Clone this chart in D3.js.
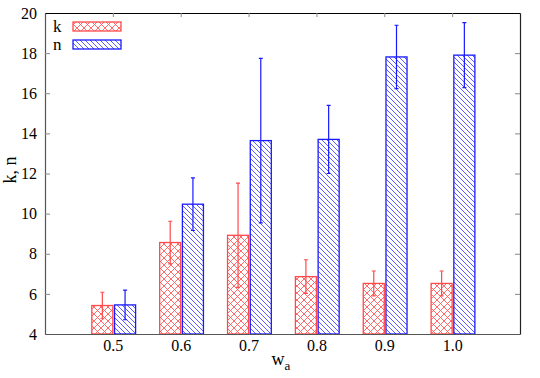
<!DOCTYPE html>
<html>
<head>
<meta charset="utf-8">
<script src="https://cdn.jsdelivr.net/npm/d3@7"></script>
<style>
  body { margin: 0; background: #fff; }
</style>
</head>
<body>
<div id="chart"></div>
<script>
// data
const wa = ["0.5", "0.6", "0.7", "0.8", "0.9", "1.0"];
const kVals = [5.42, 8.56, 8.92, 6.86, 6.52, 6.52];
const kErr  = [0.66, 1.06, 2.60, 0.84, 0.62, 0.62];
const nVals = [5.45, 10.47, 13.64, 13.70, 17.81, 17.90];
const nErr  = [0.74, 1.31, 4.10, 1.70, 1.58, 1.62];
const yTicks = [4, 6, 8, 10, 12, 14, 16, 18, 20];

const width = 540, height = 378;
const margin = ({top: 13, right: 20, bottom: 44, left: 45});
const visWidth = width - margin.left - margin.right;
const visHeight = height - margin.top - margin.bottom;
const serif = "'Liberation Serif', 'Times New Roman', serif";

const svg = d3.select("#chart").append("svg")
    .attr("width", width)
    .attr("height", height);

// fill patterns
const defs = svg.append("defs");
const pk = defs.append("pattern")
    .attr("id", "cross")
    .attr("patternUnits", "userSpaceOnUse")
    .attr("width", 7).attr("height", 7);
pk.append("path").attr("d", "M0,0L7,7M7,0L0,7")
    .attr("stroke", "#ff5a5a").attr("stroke-width", 0.9).attr("fill", "none");
const pn = defs.append("pattern")
    .attr("id", "diag")
    .attr("patternUnits", "userSpaceOnUse")
    .attr("width", 5).attr("height", 5);
pn.append("path").attr("d", "M-1,-1L6,6M-1,4L1,6M4,-1L6,1")
    .attr("stroke", "#4a4aff").attr("stroke-width", 0.9).attr("fill", "none");

const x = d3.scaleLinear().domain([0, 7]).range([0, visWidth]);
const y = d3.scaleLinear().domain([4, 20]).range([visHeight, 0]);

const g = svg.append("g")
    .attr("transform", `translate(${margin.left},${margin.top})`);

const bw = 0.31;
const series = [
  {key: "k", vals: kVals, err: kErr, off: -bw, fill: "url(#cross)", stroke: "#ff4a4a"},
  {key: "n", vals: nVals, err: nErr, off: 0.025, fill: "url(#diag)", stroke: "#1a1aff"}
];

series.forEach(s => {
  const grp = g.append("g");
  grp.selectAll("rect")
    .data(s.vals)
    .enter().append("rect")
      .attr("x", (d, i) => x(i + 1 + s.off))
      .attr("y", d => y(d))
      .attr("width", x(bw) - x(0))
      .attr("height", d => y(4) - y(d))
      .attr("fill", s.fill)
      .attr("stroke", s.stroke)
      .attr("stroke-width", 1.3);

  // error bars
  const cx = i => x(i + 1 + s.off + bw / 2);
  grp.selectAll(".eb")
    .data(s.vals)
    .enter().append("path")
      .attr("d", (d, i) => {
        const xc = cx(i), t = y(d + s.err[i]), b = y(d - s.err[i]);
        return `M${xc},${t}V${b}M${xc - 2},${t}H${xc + 2}M${xc - 2},${b}H${xc + 2}`;
      })
      .attr("stroke", s.stroke)
      .attr("stroke-width", 1.2)
      .attr("fill", "none");
});

// axes
const yAxis = g.append("g")
    .call(d3.axisLeft(y).tickValues(yTicks).tickSizeInner(-5).tickSizeOuter(0).tickPadding(8));
yAxis.select(".domain").attr("stroke", "#555").attr("stroke-width", 1.2);
yAxis.selectAll(".tick line").attr("stroke", "#888");
yAxis.selectAll("text").style("font-family", serif).style("font-size", "16px").attr("fill", "#000");

const yRight = g.append("g")
    .attr("transform", `translate(${visWidth},0)`)
    .call(d3.axisRight(y).tickValues(yTicks).tickSizeInner(-5).tickSizeOuter(0).tickFormat(""));
yRight.select(".domain").attr("stroke", "#222").attr("stroke-width", 1.2);
yRight.selectAll(".tick line").attr("stroke", "#888");

const xAxis = g.append("g")
    .attr("transform", `translate(0,${visHeight})`)
    .call(d3.axisBottom(x).tickValues(d3.range(1, 7)).tickFormat(i => wa[i - 1])
      .tickSizeInner(0).tickSizeOuter(0).tickPadding(6));
xAxis.select(".domain").attr("stroke", "#555").attr("stroke-width", 1.2);
xAxis.selectAll("text").style("font-family", serif).style("font-size", "16px").attr("fill", "#000");

const xTop = g.append("g")
    .call(d3.axisTop(x).tickValues(d3.range(1, 7)).tickFormat("")
      .tickSizeInner(-4).tickSizeOuter(0));
xTop.select(".domain").attr("stroke", "#000").attr("stroke-width", 1.2);
xTop.selectAll(".tick line").attr("stroke", "#888");

// axis labels
svg.append("text")
    .attr("transform", "translate(16,170) rotate(-90)")
    .attr("text-anchor", "middle")
    .style("font-family", serif)
    .style("font-size", "18px")
    .text("k, n");

const xl = svg.append("text")
    .attr("x", 281)
    .attr("y", 365)
    .attr("text-anchor", "middle")
    .style("font-family", serif)
    .style("font-size", "18px")
    .text("w");
xl.append("tspan").attr("dy", 5).style("font-size", "13px").text("a");

// legend
const legend = svg.append("g");
series.forEach((s, i) => {
  const ly = 22 + i * 18;
  legend.append("text")
      .attr("x", 53).attr("y", ly + 10)
      .style("font-family", serif)
      .style("font-size", "17px")
      .text(s.key);
  legend.append("rect")
      .attr("x", 73).attr("y", ly)
      .attr("width", 48).attr("height", 9)
      .attr("fill", s.fill)
      .attr("stroke", s.stroke)
      .attr("stroke-width", 1.3);
});
</script>
</body>
</html>
